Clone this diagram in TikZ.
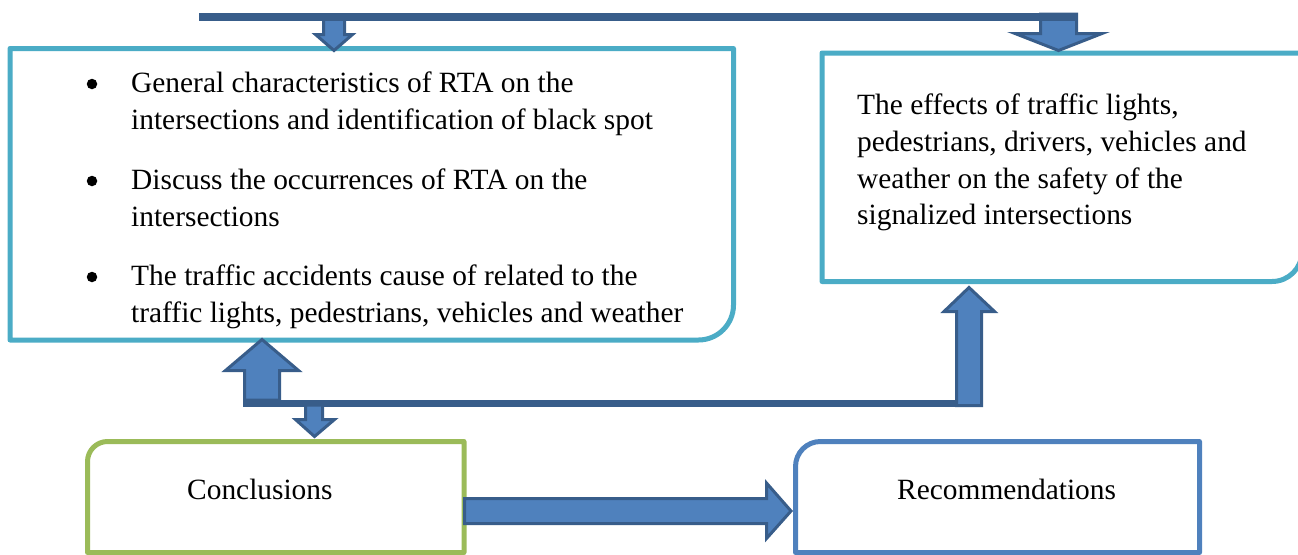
\documentclass[tikz,border=0pt]{standalone}
\usepackage{fontspec}
\setmainfont{Liberation Serif}
\definecolor{teal}{HTML}{4BACC6}
\definecolor{grn}{HTML}{9BBB59}
\definecolor{blu}{HTML}{4F81BD}
\definecolor{dark}{HTML}{385D8A}
\tikzset{
  boxteal/.style={draw=teal, line width=5pt, fill=white, line join=round},
  boxgrn/.style={draw=grn, line width=5pt, fill=white, line join=round},
  boxblu/.style={draw=blu, line width=5pt, fill=white, line join=round},
  blockarrow/.style={draw=dark, fill=blu, line width=3pt, line join=miter},
  bar/.style={fill=dark, draw=none},
  txt/.style={inner sep=0pt, anchor=base west, font=\fontsize{29.4}{37}\selectfont},
  bul/.style={circle, fill=black, inner sep=0pt, minimum size=10.5pt}
}
\begin{document}
\begin{tikzpicture}[x=1pt,y=-1pt]
\useasboundingbox (0,0) rectangle (1298,554);
% boxes
\draw[boxteal] (10,48.5) -- (733.5,48.5) -- (733.5,305) .. controls (733.5,324.3) and (717.8,340) .. (698.5,340) -- (10,340) -- cycle;
\draw[boxteal] (822,53) -- (1302,53) -- (1302,251.5) .. controls (1302,268.1) and (1288.6,281.5) .. (1272,281.5) -- (822,281.5) -- cycle;
\draw[boxgrn] (87.5,552.5) -- (87.5,461.5) .. controls (87.5,450.5) and (96.5,441.5) .. (107.5,441.5) -- (464,441.5) -- (464,552.5) -- cycle;
\draw[boxblu] (795.5,552.5) -- (795.5,466.5) .. controls (795.5,452.7) and (806.7,441.5) .. (820.5,441.5) -- (1199.5,441.5) -- (1199.5,552.5) -- cycle;
% text
\node[bul] (b1) at (92,84) {};
\node[bul] (b2) at (92,181) {};
\node[bul] (b3) at (92,277) {};
\node[txt] (l1) at (131,92) {General characteristics of RTA on the};
\node[txt] (l2) at (131,129) {intersections and identification of black spot};
\node[txt] (l3) at (131,189) {Discuss the occurrences of RTA on the};
\node[txt] (l4) at (131,226) {intersections};
\node[txt] (l5) at (131,285) {The traffic accidents cause of related to the};
\node[txt] (l6) at (131,322) {traffic lights, pedestrians, vehicles and weather};
\node[txt] (r1) at (857,114) {The effects of traffic lights,};
\node[txt] (r2) at (857,151) {pedestrians, drivers, vehicles and};
\node[txt] (r3) at (857,188) {weather on the safety of the};
\node[txt] (r4) at (857,224) {signalized intersections};
\node[txt] (conc) at (187,499) {Conclusions};
\node[txt] (reco) at (897,499) {Recommendations};
% top bar and arrows
\draw[blockarrow] (323.5,19) -- (344.5,19) -- (344.5,34.5) -- (352.5,34.5) -- (334,50.5) -- (315.5,34.5) -- (323.5,34.5) -- cycle;
\draw[blockarrow] (1040.5,14) -- (1076.5,14) -- (1076.5,33.5) -- (1102,33.5) -- (1058.5,50.5) -- (1015,33.5) -- (1040.5,33.5) -- cycle;
\fill[dark] (199,13) rectangle (1078,21);
% bottom bar and arrows
\fill[dark] (243,400) rectangle (982,407);
\draw[blockarrow] (244.5,400) -- (244.5,370.5) -- (225.5,370.5) -- (262,339.5) -- (298.5,370.5) -- (279.5,370.5) -- (279.5,400) -- cycle;
\draw[blockarrow] (956.5,405.5) -- (956.5,311.5) -- (944,311.5) -- (969,287.5) -- (994.5,311.5) -- (981.5,311.5) -- (981.5,405.5) -- cycle;
\draw[blockarrow] (305.5,405) -- (322.5,405) -- (322.5,419.5) -- (334.5,419.5) -- (314.5,436.5) -- (295.5,419.5) -- (305.5,419.5) -- cycle;
% right arrow
\draw[blockarrow] (464.5,498.5) -- (766.5,498.5) -- (766.5,483) -- (791,511) -- (766.5,538.5) -- (766.5,523.5) -- (464.5,523.5) -- cycle;
\end{tikzpicture}
\end{document}
